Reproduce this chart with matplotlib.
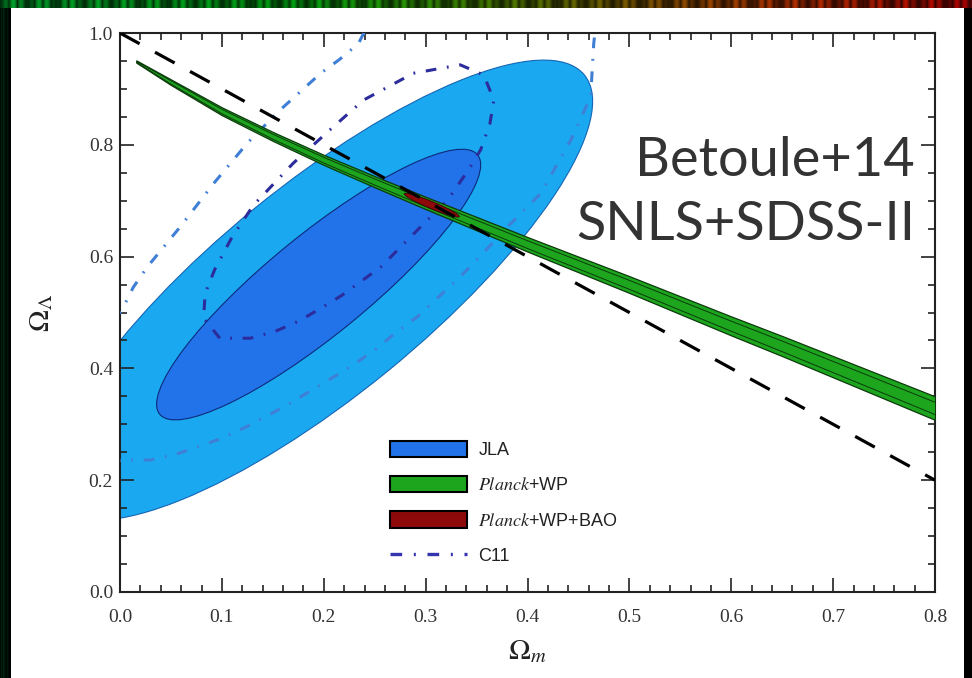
import numpy as np
import matplotlib
matplotlib.use('Agg')
import matplotlib.pyplot as plt
from matplotlib.patches import Circle, Patch, Rectangle
from matplotlib.lines import Line2D
from matplotlib.transforms import Affine2D

plt.rcParams['mathtext.fontset'] = 'stix'

# JLA ellipses: centre and two conjugate half-diameters (data units)
jla_centre = (0.197, 0.540)
jla_2sig_a = (0.2588, 0.385)
jla_2sig_b = (-0.0654, 0.1454)
jla_1sig_centre = (0.195, 0.550)
jla_1sig_a = (0.156, 0.232)
jla_1sig_b = (-0.0311, 0.0692)

# Planck+WP band: centre line and vertical half widths
planck_om = [0.016, 0.05, 0.10, 0.15, 0.20, 0.25, 0.30, 0.35, 0.40, 0.45, 0.50, 0.55, 0.60, 0.65, 0.70, 0.75, 0.80]
planck_ol = [0.949, 0.912, 0.860, 0.815, 0.773, 0.734, 0.696, 0.659, 0.622, 0.586, 0.550, 0.513, 0.476, 0.440, 0.403, 0.366, 0.329]
planck_w2 = [0.002, 0.005, 0.007, 0.008, 0.009, 0.010, 0.011, 0.012, 0.013, 0.014, 0.015, 0.016, 0.017, 0.018, 0.019, 0.020, 0.021]
planck_w1 = [0.001, 0.003, 0.004, 0.0045, 0.005, 0.0055, 0.006, 0.0065, 0.007, 0.0075, 0.008, 0.0085, 0.009, 0.0095, 0.010, 0.0105, 0.011]

# Planck+WP+BAO
bao_centre = (0.306, 0.692)
bao_a = (0.027, -0.0205)
bao_b = (0.0014, 0.0057)

# C11 contours
c11_in_om = [0.098, 0.082, 0.0836, 0.093, 0.110, 0.131, 0.170, 0.205, 0.239, 0.288, 0.334, 0.357, 0.367,
             0.363, 0.354, 0.342, 0.3215, 0.295, 0.2557, 0.218, 0.197, 0.176, 0.152, 0.128, 0.098]
c11_in_ol = [0.454, 0.490, 0.534, 0.577, 0.635, 0.692, 0.767, 0.825, 0.880, 0.928, 0.943, 0.925, 0.880,
             0.837, 0.791, 0.755, 0.701, 0.653, 0.581, 0.531, 0.5075, 0.485, 0.466, 0.454, 0.454]
c11_out_om = [-0.01, 0.0066, 0.0295, 0.054, 0.077, 0.100, 0.1246, 0.146, 0.167, 0.188, 0.210, 0.231, 0.2524,
              0.272, 0.292, 0.311, 0.329, 0.347, 0.3835, 0.413, 0.4425, 0.462, 0.465, 0.468,
              0.245, 0.234, 0.215, 0.197, 0.157, 0.125, 0.092, 0.059, 0.027, 0.013, 0.0017, -0.01]
c11_out_ol = [0.234, 0.236, 0.236, 0.246, 0.260, 0.275, 0.296, 0.3166, 0.3375, 0.361, 0.385, 0.409, 0.436,
              0.466, 0.4925, 0.525, 0.555, 0.588, 0.659, 0.713, 0.8086, 0.886, 0.981, 1.03,
              1.02, 0.981, 0.952, 0.928, 0.862, 0.803, 0.731, 0.653, 0.582, 0.545, 0.504, 0.48]

# flat universe line
flat_om = [0.0, 0.8]
flat_ol = [1.0, 0.2]

xticks = [0.0, 0.1, 0.2, 0.3, 0.4, 0.5, 0.6, 0.7, 0.8]
yticks = [0.0, 0.2, 0.4, 0.6, 0.8, 1.0]

c_out = '#1aa9f0'
c_in = '#2272ea'
c_green = '#1ea51e'
c_red = '#8e0a0a'
c_c11_in = '#2c2c9c'
c_c11_out = '#3f7fd6'


def add_ellipse(ax, c, a, b, **kw):
    m = np.array([[a[0], b[0], c[0]], [a[1], b[1], c[1]], [0, 0, 1]])
    ax.add_patch(Circle((0, 0), 1, transform=Affine2D(m) + ax.transData, **kw))


fig = plt.figure(figsize=(9.72, 6.78), dpi=100)
fig.patch.set_facecolor('black')
fig.add_artist(Rectangle((10 / 972, 0), 954 / 972, 670 / 678, transform=fig.transFigure,
                         facecolor='white', edgecolor='none', zorder=-5))

# noisy coloured strip on top and dark strip on the left (decoration of the screenshot)
xs = np.arange(972)
bright = 0.2 + 0.5 * np.abs(np.sin(xs * 0.37) * np.sin(xs * 0.113))
t = xs / 971
strip = np.zeros((1, 972, 3))
strip[0, :, 0] = bright * np.clip(2 * t - 0.6, 0, 1)
strip[0, :, 1] = bright * np.clip(1.6 - 1.6 * t, 0, 1) * 0.9
strip[0, :, 2] = bright * np.clip(0.5 - t, 0, 1) * 0.5
sax = fig.add_axes([0, 1 - 8 / 678, 1, 8 / 678])
sax.imshow(strip, aspect='auto')
sax.axis('off')
lstrip = np.zeros((1, 10, 3))
lstrip[0, :, 1] = [0.05, 0.12, 0.03, 0.18, 0.06, 0.02, 0.10, 0.03, 0.01, 0.0]
lstrip[0, :, 2] = [0.03, 0.06, 0.02, 0.08, 0.03, 0.01, 0.05, 0.02, 0.0, 0.0]
lax = fig.add_axes([0, 0, 10 / 972, 1 - 8 / 678])
lax.imshow(lstrip, aspect='auto')
lax.axis('off')

ax = fig.add_axes([120 / 972, 1 - 592 / 678, 815 / 972, 559 / 678])

add_ellipse(ax, jla_centre, jla_2sig_a, jla_2sig_b, facecolor=c_out, edgecolor='#1565b5', lw=0.8, zorder=1)
add_ellipse(ax, jla_1sig_centre, jla_1sig_a, jla_1sig_b, facecolor=c_in, edgecolor='#0c2a7a', lw=0.8, zorder=2)

ax.plot(c11_out_om, c11_out_ol, color=c_c11_out, lw=2.2, dashes=(3.5, 3.5, 0.6, 3.5), zorder=3)
ax.plot(c11_in_om, c11_in_ol, color=c_c11_in, lw=2.2, dashes=(3.5, 3.5, 0.6, 3.5), zorder=3)

om = np.array(planck_om)
ol = np.array(planck_ol)
w2 = np.array(planck_w2)
w1 = np.array(planck_w1)
ax.fill_between(om, ol - w2, ol + w2, facecolor=c_green, edgecolor='#0b3a0b', lw=0.9, zorder=4)
ax.fill_between(om, ol - w1, ol + w1, facecolor=c_green, edgecolor='#0b3a0b', lw=0.7, zorder=4)

add_ellipse(ax, bao_centre, bao_a, bao_b, facecolor=c_red, edgecolor='#3a0000', lw=0.6, zorder=5)

ax.plot(flat_om, flat_ol, color='black', lw=2.3, dashes=(7, 5.5), zorder=6)

ax.set_xlim(0, 0.8)
ax.set_ylim(0, 1.0)
ax.set_xticks(xticks)
ax.set_yticks(yticks)
ax.set_xticklabels([f'{v:.1f}' for v in xticks])
ax.set_yticklabels([f'{v:.1f}' for v in yticks])
ax.set_xticks(np.arange(0, 0.801, 0.02), minor=True)
ax.set_yticks(np.arange(0, 1.001, 0.05), minor=True)
ax.tick_params(which='both', direction='in', top=True, right=True, width=1.2, colors='#222222')
ax.tick_params(which='major', length=10, labelsize=14)
ax.tick_params(which='minor', length=5)
ax.tick_params(axis='x', pad=12)
ax.tick_params(axis='y', pad=5)
for lab in ax.get_xticklabels() + ax.get_yticklabels():
    lab.set_family('Liberation Serif')
    lab.set_color('#333333')
for s in ax.spines.values():
    s.set_linewidth(1.5)
    s.set_color('#222222')

ax.set_xlabel(r'$\Omega_m$', fontsize=21, color='#222222', labelpad=8)
ax.set_ylabel(r'$\Omega_\Lambda$', fontsize=21, color='#222222', labelpad=24)

handles = [
    Patch(facecolor=c_in, edgecolor='black', lw=1.5),
    Patch(facecolor=c_green, edgecolor='black', lw=1.5),
    Patch(facecolor=c_red, edgecolor='black', lw=1.5),
    Line2D([], [], color='#3535b0', lw=2.4, dashes=(3.5, 3.5, 0.6, 3.5)),
]
labels = ['JLA', r'$\it{Planck}$+WP', r'$\it{Planck}$+WP+BAO', 'C11']
leg = ax.legend(handles, labels, loc='upper left', bbox_to_anchor=(0.331, 0.271), frameon=False,
                prop={'family': 'Liberation Sans', 'size': 13}, handlelength=4.3, handleheight=1.0,
                handletextpad=0.6, labelspacing=0.95, borderpad=0, borderaxespad=0)
for txt in leg.get_texts():
    txt.set_color('#222222')

ax.text(0.9755, 0.7440, 'Betoule+14', transform=ax.transAxes, ha='right', va='baseline',
        family='Lato', fontsize=39, color='#333333', zorder=10)
ax.text(0.9755, 0.6297, 'SNLS+SDSS-II', transform=ax.transAxes, ha='right', va='baseline',
        family='Lato', fontsize=39, color='#333333', zorder=10)

fig.savefig('out.png', dpi=100, facecolor=fig.get_facecolor())
